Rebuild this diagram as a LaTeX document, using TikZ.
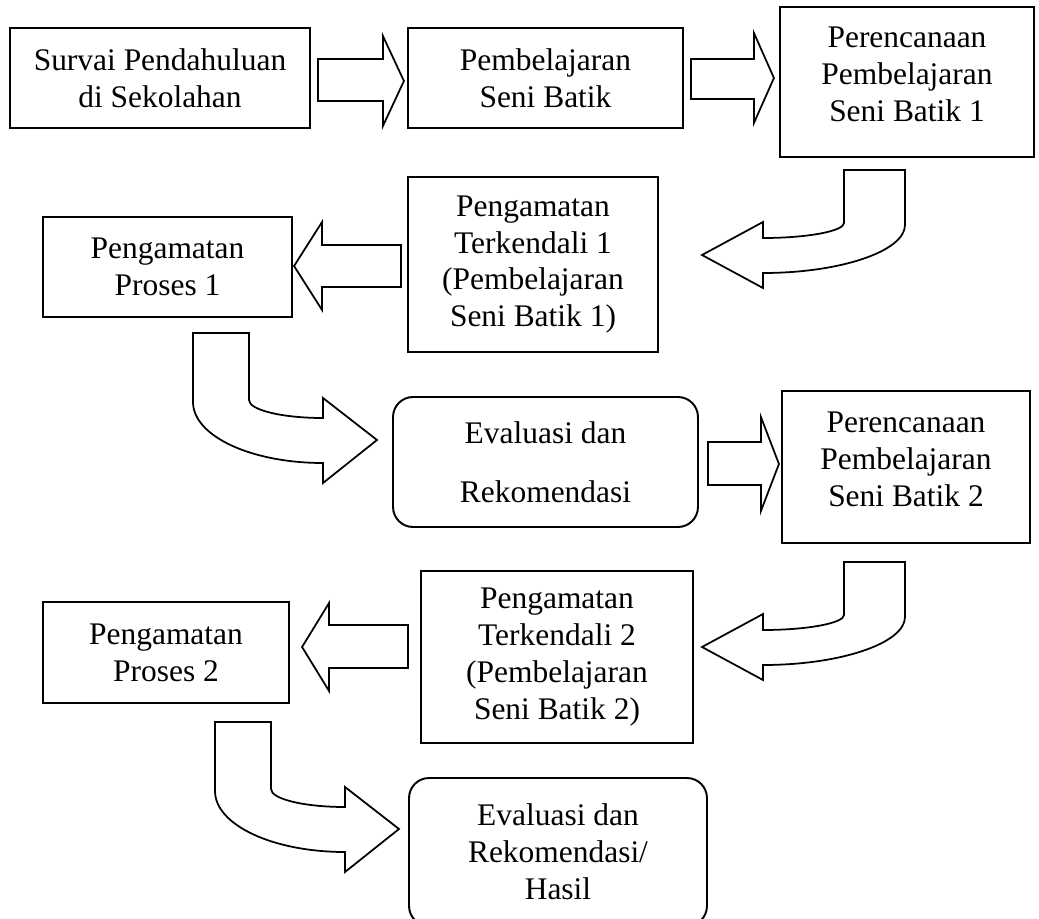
\documentclass[tikz,border=0pt]{standalone}
\usepackage{fontspec}
\setmainfont{Liberation Serif}
\usetikzlibrary{positioning}

\tikzset{
  box/.style={draw, line width=1.1pt, align=center, inner sep=2pt},
  rbox/.style={box, rounded corners=0.4cm},
  blk/.style={draw, line width=1pt, fill=white, line join=miter},
}

\begin{document}
\begin{tikzpicture}[x=0.02cm, y=-0.02cm, font=\fontsize{17.9}{21}\selectfont]
  \clip (0,0) rectangle (1039,919);

  % first round
  \node[box, minimum width=6cm, minimum height=2cm] (survai) at (160,78) {Survai Pendahuluan\\di Sekolahan};
  \node[box, minimum width=5.5cm, minimum height=2cm] (pemb) at (545.5,78) {Pembelajaran\\Seni Batik};
  \node[box, minimum width=5.08cm, minimum height=3cm, text depth=0.3cm] (peren1) at (907,82) {Perencanaan\\Pembelajaran\\Seni Batik 1};
  \node[box, minimum width=5cm, minimum height=3.5cm] (terk1) at (533,264.5) {Pengamatan\\Terkendali 1\\(Pembelajaran\\Seni Batik 1)};
  \node[box, minimum width=4.98cm, minimum height=2cm] (proses1) at (167.5,267) {Pengamatan\\Proses 1};
  \node[rbox, minimum width=6.1cm, minimum height=2.6cm] (eval1) at (545.5,462) {Evaluasi dan\\[0.44cm]Rekomendasi};

  % second round
  \node[box, minimum width=4.96cm, minimum height=3.04cm, text depth=0.3cm] (peren2) at (906,467) {Perencanaan\\Pembelajaran\\Seni Batik 2};
  \node[box, minimum width=5.44cm, minimum height=3.44cm] (terk2) at (557,657) {Pengamatan\\Terkendali 2\\(Pembelajaran\\Seni Batik 2)};
  \node[box, minimum width=4.92cm, minimum height=2.02cm] (proses2) at (166,652.5) {Pengamatan\\Proses 2};
  \node[rbox, minimum width=5.96cm, minimum height=2.96cm] (eval2) at (558,852) {Evaluasi dan\\Rekomendasi/\\Hasil};

  % straight block arrows
  \draw[blk] (survai.east) ++(7,-19) -- ++(65,0) -- ++(0,-23) -- ++(21,45) -- ++(-21,45) -- ++(0,-25) -- ++(-65,0) -- cycle;
  \draw[blk] (pemb.east) ++(7,-19) -- ++(63,0) -- ++(0,-26) -- ++(20,45) -- ++(-20,45) -- ++(0,-24) -- ++(-63,0) -- cycle;
  \draw[blk] (eval1.east) ++(9,-20) -- ++(53,0) -- ++(0,-25) -- ++(18,47) -- ++(-18,47) -- ++(0,-26) -- ++(-53,0) -- cycle;
  \draw[blk] (terk1.west) ++(-6,-19.5) -- ++(-79,0) -- ++(0,-23) -- ++(-28,44) -- ++(28,44) -- ++(0,-23) -- ++(79,0) -- cycle;
  \draw[blk] (terk2.west) ++(-12,-32) -- ++(-79,0) -- ++(0,-22) -- ++(-27,44) -- ++(27,44) -- ++(0,-23) -- ++(79,0) -- cycle;

  % bent arrows, down then left
  \foreach \dy in {0,392} {
    \draw[blk, shift={(0,\dy)}] (844,170) -- (905,170) -- (905,225)
      .. controls (905,251) and (841,273) .. (763,273) -- (763,288) -- (702,255) -- (763,222) -- (763,238)
      .. controls (808,238) and (844,231) .. (844,223) -- cycle;
  }

  % bent arrows, down then right
  \foreach \dx/\dy in {0/0, 22/389} {
    \draw[blk, shift={(\dx,\dy)}] (193,333) -- (249,333) -- (249,400)
      .. controls (249,410) and (282,418) .. (323,418) -- (323,398) -- (377,440) -- (323,483) -- (323,463)
      .. controls (251,463) and (193,436) .. (193,402) -- cycle;
  }
\end{tikzpicture}
\end{document}
